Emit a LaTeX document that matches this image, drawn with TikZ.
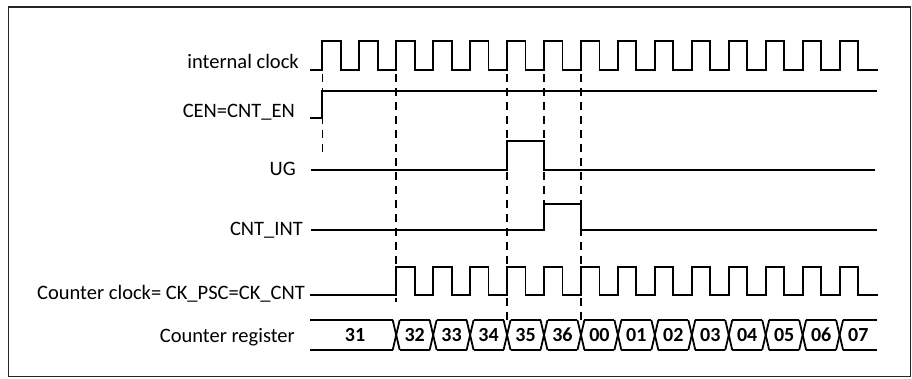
\documentclass[tikz,border=0pt]{standalone}
\usepackage{fontspec}
\setmainfont{Carlito}
\begin{document}
\begin{tikzpicture}[x=1pt,y=-1pt,
  sig/.style={line width=1.8pt,line join=miter},
  guide/.style={line width=1.6pt,dash pattern=on 8pt off 6pt},
  lbl/.style={anchor=base east,inner sep=0pt,font=\fontsize{20.5}{24}\selectfont},
  val/.style={anchor=base,inner sep=0pt,font=\fontsize{20}{22}\selectfont\bfseries}]
\useasboundingbox (0,0) rectangle (912,378);
\draw[line width=1.5pt,black!85] (8.5,7) rectangle (910.5,376.5);
% labels
\node[lbl] (lclk) at (299,68.5) {internal clock};
\node[lbl] (lcen) at (295,117.5) {CEN=CNT\_EN};
\node[lbl] (lug) at (296,175) {UG};
\node[lbl] (lint) at (303,235) {CNT\_INT};
\node[lbl] (lcck) at (305,299) {Counter clock= CK\_PSC=CK\_CNT};
\node[lbl] (lreg) at (295,342.5) {Counter register};
\def\Tz{322.3}\def\P{36.95}\def\H{18.48}
% internal clock
\draw[sig] (310,70) foreach \k in {0,...,14} {
  -- ({\Tz+\P*\k},70) -- ({\Tz+\P*\k},41) -- ({\Tz+\P*\k+\H},41) -- ({\Tz+\P*\k+\H},70) } -- (878,70);
% CEN
\draw[sig] (310,118) -- (\Tz,118) -- (\Tz,91) -- (877,91);
% UG
\draw[sig] (311,170) -- ({\Tz+5*\P},170) -- ({\Tz+5*\P},141) -- ({\Tz+6*\P},141) -- ({\Tz+6*\P},170) -- (875,170);
% CNT_INT
\draw[sig] (311,230) -- ({\Tz+6*\P},230) -- ({\Tz+6*\P},204) -- ({\Tz+7*\P},204) -- ({\Tz+7*\P},230) -- (877,230);
% counter clock
\draw[sig] (310,295) foreach \k in {2,...,14} {
  -- ({\Tz+\P*\k},295) -- ({\Tz+\P*\k},267) -- ({\Tz+\P*\k+\H},267) -- ({\Tz+\P*\k+\H},295) } -- (878,295);
% guides
\coordinate (g0t) at (\Tz,74); \coordinate (g0b) at (\Tz,156);
\coordinate (g2t) at ({\Tz+2*\P},74); \coordinate (g2b) at ({\Tz+2*\P},302);
\coordinate (g5t) at ({\Tz+5*\P},74); \coordinate (g5b) at ({\Tz+5*\P},320);
\coordinate (g6t) at ({\Tz+6*\P},74); \coordinate (g6b) at ({\Tz+6*\P},204);
\coordinate (g7t) at ({\Tz+7*\P},74); \coordinate (g7b) at ({\Tz+7*\P},320);
\draw[guide] (g0t) -- (g0b);
\draw[guide] (g2t) -- (g2b);
\draw[guide] (g5t) -- (g5b);
\draw[guide] (g6t) -- (g6b);
\draw[guide] (g7t) -- (g7b);
% counter register bus
\def\h{3.5}
\draw[sig] (310,320) -- ({\Tz+2*\P-\h},320);
\draw[sig] (310,350) -- ({\Tz+2*\P-\h},350);
\foreach \k in {2,...,14} {
  \draw[sig] ({\Tz+\P*\k-\h},320) -- ({\Tz+\P*\k+\h},350);
  \draw[sig] ({\Tz+\P*\k-\h},350) -- ({\Tz+\P*\k+\h},320);
}
\foreach \k in {2,...,13} {
  \draw[sig] ({\Tz+\P*\k+\h},320) -- ({\Tz+\P*(\k+1)-\h},320);
  \draw[sig] ({\Tz+\P*\k+\h},350) -- ({\Tz+\P*(\k+1)-\h},350);
}
\draw[sig] ({\Tz+14*\P+\h},320) -- (877,320);
\draw[sig] ({\Tz+14*\P+\h},350) -- (877,350);
\node[val] (v31) at (355,341.7) {31};
\foreach \k/\v in {2/32,3/33,4/34,5/35,6/36,7/00,8/01,9/02,10/03,11/04,12/05,13/06} {
  \node[val] (v\k) at ({\Tz+\P*\k+\P/2},341.7) {\v};
}
\node[val] (v14) at ({(\Tz+14*\P+877)/2},341.7) {07};
\end{tikzpicture}
\end{document}
